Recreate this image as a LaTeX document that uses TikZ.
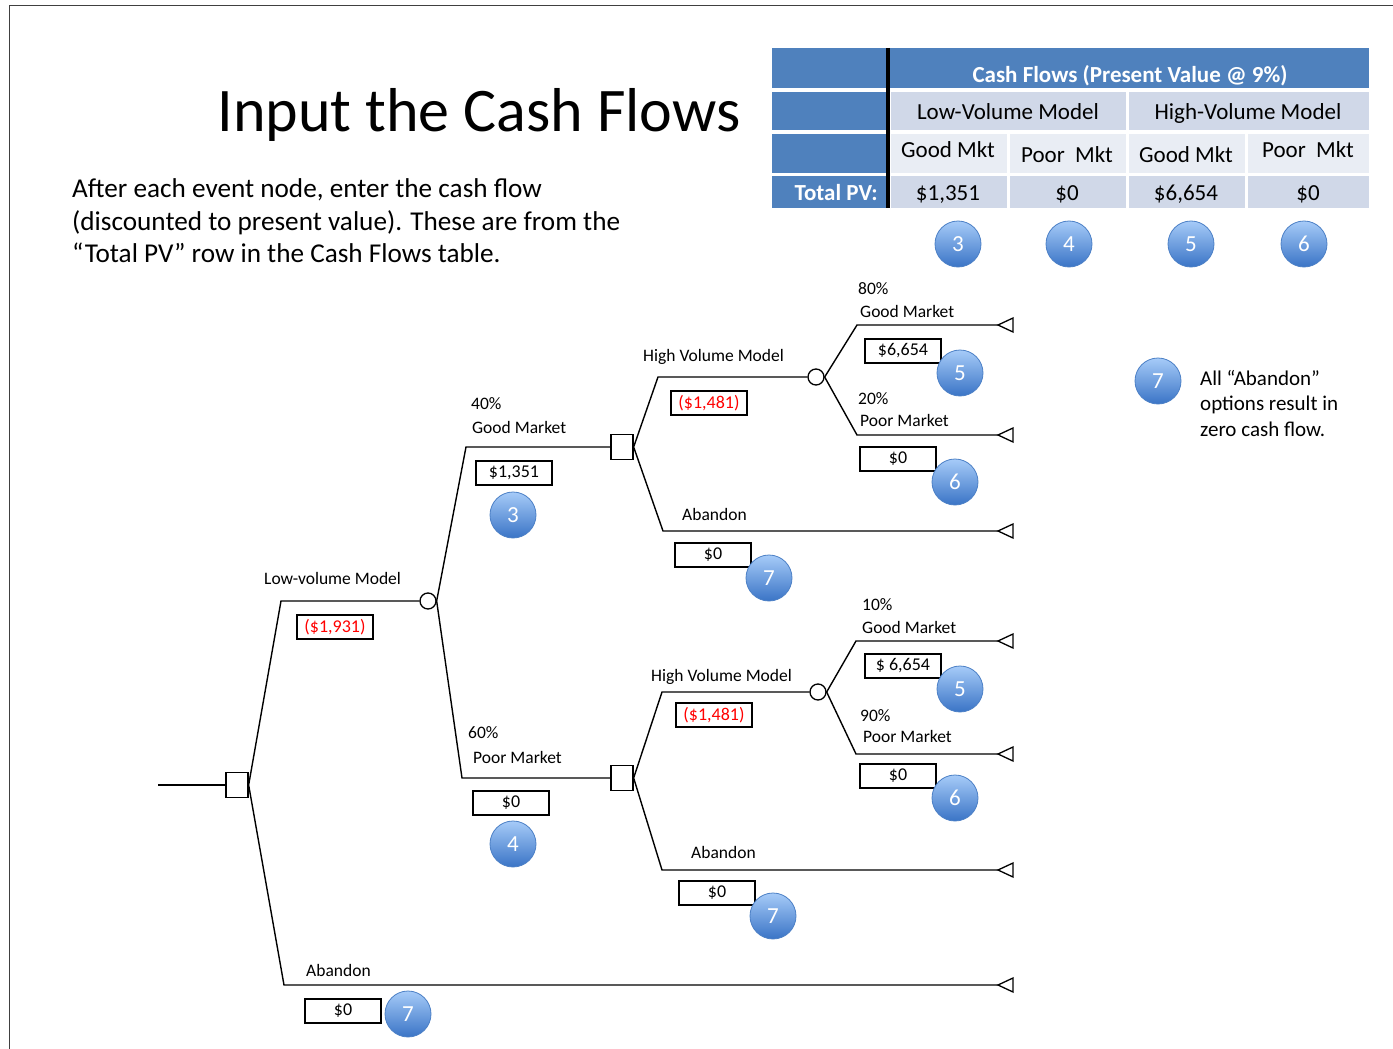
\documentclass[tikz,border=0pt]{standalone}
\usepackage{fontspec}
\setmainfont{Carlito}
\definecolor{hdr}{HTML}{4F81BD}
\definecolor{lightA}{HTML}{D0D8E8}
\definecolor{lightB}{HTML}{E9EDF4}
\definecolor{ballTop}{HTML}{A6CBF8}
\definecolor{ballBot}{HTML}{3A74C6}
\definecolor{ballEdge}{HTML}{4C80C6}
\definecolor{frameC}{HTML}{404040}
\begin{document}
\begin{tikzpicture}[x=1pt,y=-1pt,
  tree/.style={line width=1.4pt},
  dec/.style={draw,line width=1.3pt,fill=white,minimum width=22pt,minimum height=25pt,inner sep=0pt},
  chance/.style={draw,circle,line width=1.3pt,fill=white,minimum size=16pt,inner sep=0pt},
  val/.style={draw,line width=1.2pt,minimum width=76pt,minimum height=24pt,inner sep=0pt,font=\fontsize{18}{20}\selectfont},
  lbl/.style={anchor=base west,inner sep=0pt,font=\fontsize{17.5}{20}\selectfont},
  ball/.style={circle,minimum size=46pt,inner sep=0pt,top color=ballTop,bottom color=ballBot,draw=ballEdge,line width=0.8pt,text=white,font=\fontsize{23}{26}\selectfont},
  tcell/.style={anchor=base,inner sep=0pt,font=\fontsize{23}{26}\selectfont},
  term/.style={line width=1.3pt,line join=miter}
]
\useasboundingbox (0,0) rectangle (1393,1049);
\fill[white] (0,0) rectangle (1393,1049);
% frame
\draw[line width=1pt,frameC] (9,1049) -- (9,6) -- (1393,6);

% title and text
\node[anchor=base,inner sep=0pt,font=\fontsize{62}{70}\selectfont] (title) at (479,131) {Input the Cash Flows};
\node[anchor=base west,inner sep=0pt,font=\fontsize{27.2}{32}\selectfont] (t1) at (72,197) {After each event node, enter the cash flow};
\node[anchor=base west,inner sep=0pt,font=\fontsize{27.2}{32}\selectfont] (t2) at (72,230) {(discounted to present value). These are from the};
\node[anchor=base west,inner sep=0pt,font=\fontsize{27.2}{32}\selectfont] (t3) at (72,262) {“Total PV” row in the Cash Flows table.};

% table
\fill[hdr] (772,48) rectangle (1369,88);
\fill[hdr] (772,92) rectangle (886,130);
\fill[lightA] (891,92) rectangle (1126,130);
\fill[lightA] (1129,92) rectangle (1369,130);
\fill[hdr] (772,134) rectangle (886,173);
\fill[lightB] (891,134) rectangle (1007,173);
\fill[lightB] (1010,134) rectangle (1126,173);
\fill[lightB] (1129,134) rectangle (1245,173);
\fill[lightB] (1248,134) rectangle (1369,173);
\fill[hdr] (772,176) rectangle (886,208);
\fill[lightA] (891,176) rectangle (1007,208);
\fill[lightA] (1010,176) rectangle (1126,208);
\fill[lightA] (1129,176) rectangle (1245,208);
\fill[lightA] (1248,176) rectangle (1369,208);
\draw[line width=4pt] (888,48) -- (888,208);
\node[anchor=base,inner sep=0pt,text=white,font=\bfseries\fontsize{23}{26}\selectfont] (th) at (1130,82) {Cash Flows (Present Value @ 9\%)};
\node[tcell] (lv) at (1008,119) {Low-Volume Model};
\node[tcell] (hv) at (1248,119) {High-Volume Model};
\node[tcell] (g1) at (948,157) {Good Mkt};
\node[tcell] (p1) at (1067,162) {Poor\ \ Mkt};
\node[tcell] (g2) at (1186,162) {Good Mkt};
\node[tcell] (p2) at (1308,157) {Poor\ \ Mkt};
\node[anchor=base east,inner sep=0pt,text=white,font=\bfseries\fontsize{23}{26}\selectfont] (tpv) at (878,200) {Total PV:};
\node[tcell] (v1) at (948,200) {\$1,351};
\node[tcell] (v2) at (1067,200) {\$0};
\node[tcell] (v3) at (1186,200) {\$6,654};
\node[tcell] (v4) at (1308,200) {\$0};
\node[ball] (b3t) at (958,244) {3};
\node[ball] (b4t) at (1069,244) {4};
\node[ball] (b5t) at (1191,244) {5};
\node[ball] (b6t) at (1304,244) {6};

% legend
\node[ball] (b7l) at (1158,381) {7};
\node[anchor=base west,inner sep=0pt,font=\fontsize{21}{25}\selectfont] (l1) at (1200,385) {All “Abandon”};
\node[anchor=base west,inner sep=0pt,font=\fontsize{21}{25}\selectfont] (l2) at (1200,410) {options result in};
\node[anchor=base west,inner sep=0pt,font=\fontsize{21}{25}\selectfont] (l3) at (1200,436) {zero cash flow.};

% tree nodes
\coordinate (start) at (158,785);
\node[dec] (d0) at (237,785) {};
\node[chance] (c0) at (428,601) {};
\node[dec] (d1) at (622,447) {};
\node[dec] (d2) at (622,778) {};
\node[chance] (c1) at (816,377) {};
\node[chance] (c2) at (818,692) {};

\coordinate (k0u) at (281,601);
\coordinate (k0d) at (284,985);
\coordinate (k1u) at (466,447);
\coordinate (k1d) at (462,778);
\coordinate (k2u) at (658,377);
\coordinate (k2d) at (663,531);
\coordinate (k3u) at (857,325);
\coordinate (k3d) at (857,435);
\coordinate (k4u) at (662,692);
\coordinate (k4d) at (662,870);
\coordinate (k5u) at (856,641);
\coordinate (k5d) at (856,754);

\coordinate (e1) at (998,325);
\coordinate (e2) at (998,435);
\coordinate (e3) at (998,531);
\coordinate (e4) at (998,641);
\coordinate (e5) at (998,754);
\coordinate (e6) at (998,870);
\coordinate (e7) at (998,985);

\draw[tree] (start) -- (d0.west);
\draw[tree] (d0.east) -- (k0u) -- (c0.west);
\draw[tree] (d0.east) -- (k0d) -- (e7);
\draw[tree] (c0.east) -- (k1u) -- (d1.west);
\draw[tree] (c0.east) -- (k1d) -- (d2.west);
\draw[tree] (d1.east) -- (k2u) -- (c1.west);
\draw[tree] (d1.east) -- (k2d) -- (e3);
\draw[tree] (c1.east) -- (k3u) -- (e1);
\draw[tree] (c1.east) -- (k3d) -- (e2);
\draw[tree] (d2.east) -- (k4u) -- (c2.west);
\draw[tree] (d2.east) -- (k4d) -- (e6);
\draw[tree] (c2.east) -- (k5u) -- (e4);
\draw[tree] (c2.east) -- (k5d) -- (e5);

\foreach \e in {e1,e2,e3,e4,e5,e6,e7}{
  \draw[term] (\e) -- ++(15,-7) -- ++(0,14) -- cycle;
}

% labels
\node[lbl] (lab1) at (264,584) {Low-volume Model};
\node[lbl] (lab2) at (471,409) {40\%};
\node[lbl] (lab3) at (472,433) {Good Market};
\node[lbl] (lab4) at (643,361) {High Volume Model};
\node[lbl] (lab5) at (858,294) {80\%};
\node[lbl] (lab6) at (860,317) {Good Market};
\node[lbl] (lab7) at (858,404) {20\%};
\node[lbl] (lab8) at (860,426) {Poor Market};
\node[lbl] (lab9) at (682,520) {Abandon};
\node[lbl] (lab10) at (862,610) {10\%};
\node[lbl] (lab11) at (862,633) {Good Market};
\node[lbl] (lab12) at (651,681) {High Volume Model};
\node[lbl] (lab13) at (860,721) {90\%};
\node[lbl] (lab14) at (863,742) {Poor Market};
\node[lbl] (lab15) at (468,738) {60\%};
\node[lbl] (lab16) at (473,763) {Poor Market};
\node[lbl] (lab17) at (691,858) {Abandon};
\node[lbl] (lab18) at (306,976) {Abandon};

% value boxes
\node[val,text=red] (v0) at (335,627) {(\$1,931)};
\node[val] (va) at (514,473) {\$1,351};
\node[val,text=red] (vb) at (709,403) {(\$1,481)};
\node[val] (vc) at (903,351) {\$6,654};
\node[val] (vd) at (898,459) {\$0};
\node[val] (ve) at (713,555) {\$0};
\node[val] (vf) at (903,666) {\$ 6,654};
\node[val,text=red] (vg) at (714,715) {(\$1,481)};
\node[val] (vh) at (898,776) {\$0};
\node[val] (vi) at (511,803) {\$0};
\node[val] (vj) at (717,893) {\$0};
\node[val] (vk) at (343,1011) {\$0};

% numbered balls
\node[ball] (n3) at (513,515) {3};
\node[ball] (n5a) at (960,373) {5};
\node[ball] (n6a) at (955,482) {6};
\node[ball] (n7a) at (769,578) {7};
\node[ball] (n5b) at (960,689) {5};
\node[ball] (n6b) at (955,798) {6};
\node[ball] (n4) at (513,844) {4};
\node[ball] (n7b) at (773,916) {7};
\node[ball] (n7c) at (408,1014) {7};
\end{tikzpicture}
\end{document}
